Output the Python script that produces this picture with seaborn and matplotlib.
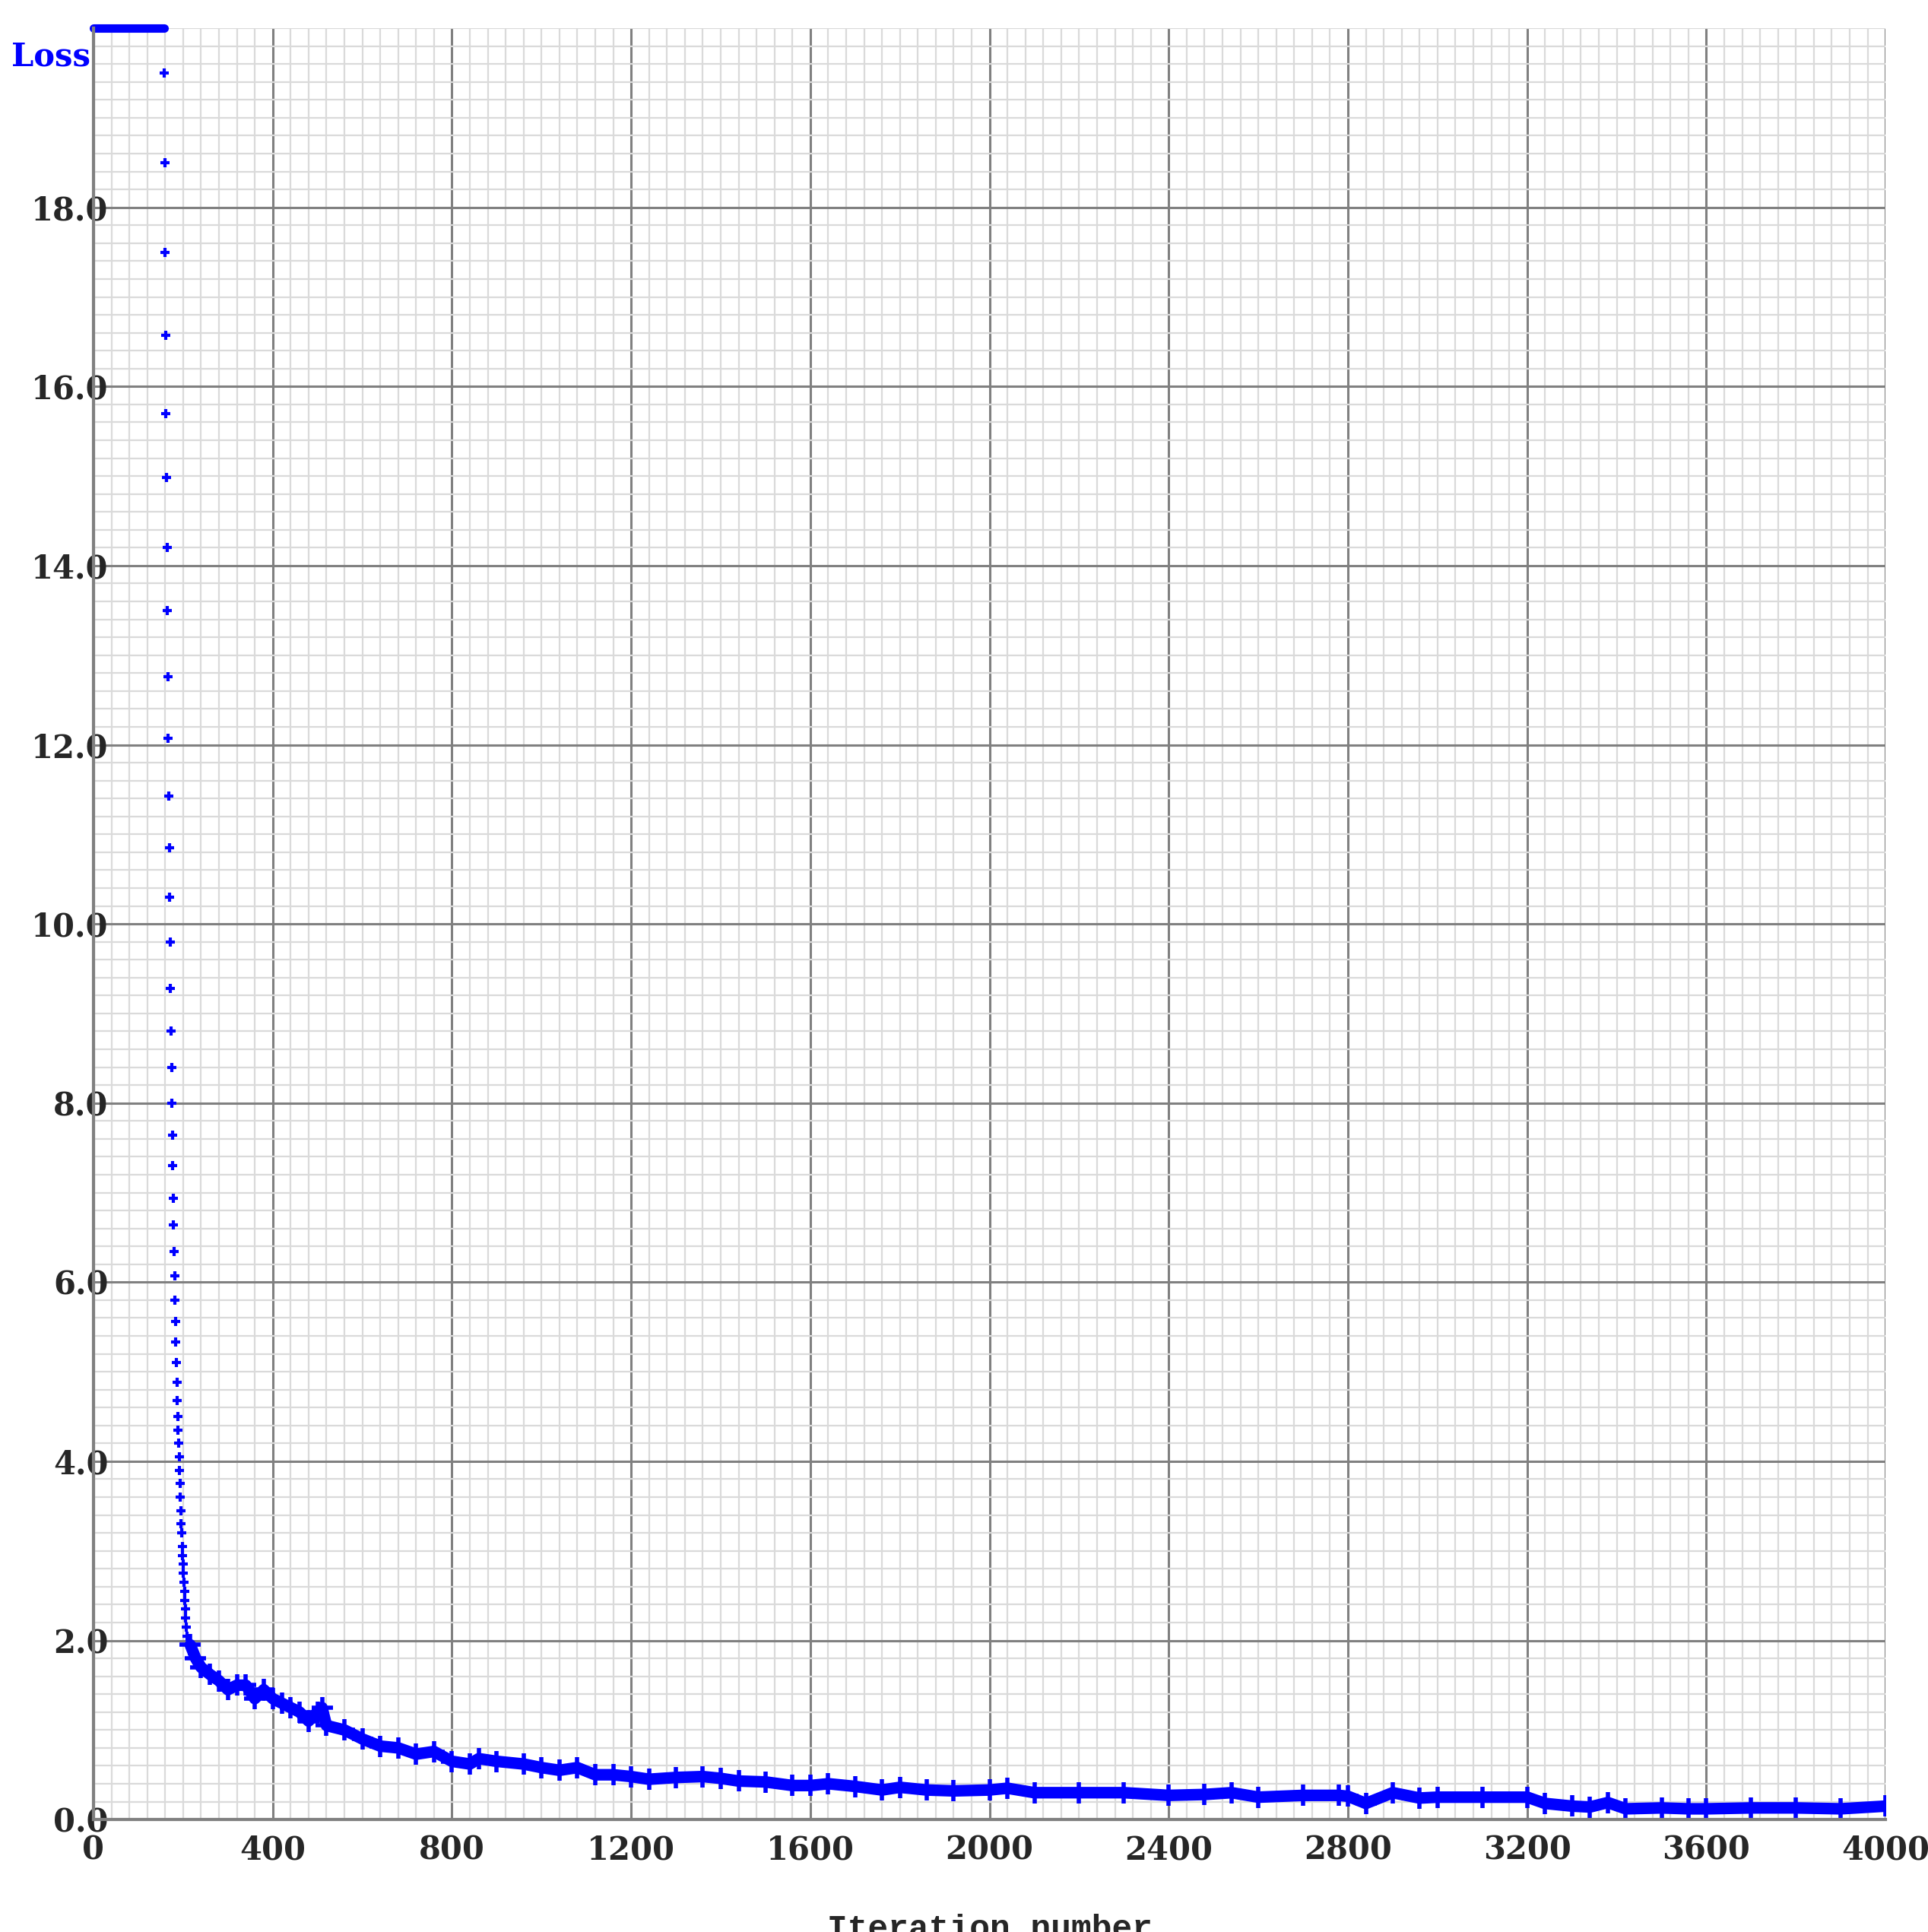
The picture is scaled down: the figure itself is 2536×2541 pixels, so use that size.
import numpy as np
import pandas as pd
import seaborn as sns
import matplotlib.pyplot as plt
from matplotlib.ticker import MultipleLocator

sns.set_theme(style="white")

# loss above the plot ceiling is drawn pinned at the top
head_iter = [0, 40, 80, 120, 157]
head_loss = [20.0, 20.0, 20.0, 20.0, 20.0]

# steep drop, about one reading per iteration
drop_loss = [19.5, 18.5, 17.5, 16.57, 15.7, 14.98, 14.2, 13.5, 12.76, 12.07,
             11.43, 10.85, 10.3, 9.8, 9.28, 8.8, 8.4, 8.0, 7.64, 7.3,
             6.94, 6.64, 6.34, 6.07, 5.8, 5.56, 5.33, 5.1, 4.88, 4.68,
             4.5, 4.35, 4.2, 4.05, 3.9, 3.75, 3.6, 3.45, 3.3, 3.2,
             3.05, 2.95, 2.85, 2.75, 2.65, 2.55, 2.45, 2.35, 2.25, 2.15, 2.05]
drop_iter = list(range(158, 158 + len(drop_loss)))

# slow tail
tail_iter = [216, 228, 240, 260, 280, 300, 320, 340, 360, 380, 400, 420, 440, 460,
             480, 500, 510, 520, 560, 600, 640, 680, 720, 760, 800, 840, 860, 900,
             960, 1000, 1040, 1080, 1120, 1160, 1200, 1240, 1300, 1360, 1400, 1440,
             1500, 1560, 1600, 1640, 1700, 1760, 1800, 1860, 1920, 2000, 2040, 2100,
             2200, 2300, 2400, 2480, 2540, 2600, 2700, 2780, 2800, 2840, 2900, 2960,
             3000, 3100, 3200, 3240, 3300, 3340, 3380, 3420, 3500, 3560, 3600, 3700,
             3800, 3900, 4000]
tail_loss = [1.95, 1.8, 1.7, 1.62, 1.55, 1.45, 1.5, 1.5, 1.35, 1.45, 1.35, 1.3, 1.25, 1.2,
             1.1, 1.2, 1.25, 1.05, 1.0, 0.9, 0.82, 0.8, 0.73, 0.76, 0.65, 0.62, 0.68, 0.65,
             0.62, 0.58, 0.55, 0.58, 0.5, 0.5, 0.48, 0.45, 0.47, 0.48, 0.46, 0.43,
             0.42, 0.38, 0.38, 0.4, 0.37, 0.33, 0.36, 0.33, 0.32, 0.33, 0.35, 0.3,
             0.3, 0.3, 0.27, 0.28, 0.3, 0.25, 0.27, 0.27, 0.26, 0.18, 0.3, 0.24,
             0.25, 0.25, 0.25, 0.18, 0.15, 0.14, 0.19, 0.12, 0.13, 0.12, 0.12, 0.13,
             0.13, 0.12, 0.15]

drop_df = pd.DataFrame({"iter": drop_iter, "loss": drop_loss})
tail_df = pd.DataFrame({"iter": tail_iter, "loss": tail_loss})

fig = plt.figure(figsize=(25.36, 25.41), dpi=100)
ax = fig.add_axes([0.0485, 0.0582, 0.9295, 0.9272])

blue = "#0000ff"
ax.plot(head_iter, head_loss, color=blue, lw=8, solid_capstyle="round", clip_on=False)
sns.scatterplot(data=drop_df, x="iter", y="loss", marker="+", s=80, linewidth=3,
                color=blue, ax=ax, legend=False)
sns.lineplot(data=tail_df, x="iter", y="loss", color=blue, lw=11, ax=ax, legend=False)
sns.scatterplot(data=tail_df, x="iter", y="loss", marker="+", s=400, linewidth=4,
                color=blue, ax=ax, legend=False)

ax.set_xlim(0, 4000)
ax.set_ylim(0, 20)
ax.xaxis.set_major_locator(MultipleLocator(400))
ax.xaxis.set_minor_locator(MultipleLocator(40))
ax.yaxis.set_major_locator(MultipleLocator(2))
ax.yaxis.set_minor_locator(MultipleLocator(0.2))
ax.grid(which="minor", color="#dadada", lw=1.6)
ax.grid(which="major", color="#808080", lw=2.2)
ax.set_axisbelow(True)
for s in ["top", "right"]:
    ax.spines[s].set_visible(False)
for s in ["left", "bottom"]:
    ax.spines[s].set_color("#808080")
    ax.spines[s].set_linewidth(3)

ax.set_yticks([0, 2, 4, 6, 8, 10, 12, 14, 16, 18])
ax.set_yticklabels([f"{v:.1f}" for v in ax.get_yticks()])
ax.tick_params(axis="both", length=0, labelsize=30)
ax.tick_params(axis="y", pad=-14)
ax.tick_params(axis="x", pad=14)
for lab in ax.get_xticklabels() + ax.get_yticklabels():
    lab.set_family("DejaVu Serif")
    lab.set_fontweight("bold")
xl = ax.get_xticklabels()
xl[0].set_horizontalalignment("right")

ax.set_xlabel("Iteration number", family="Liberation Mono", fontweight="bold",
              fontsize=32, labelpad=45)
ax.set_ylabel("")
fig.text(0.006, 0.966, "Loss", color=blue, family="DejaVu Serif",
         fontweight="bold", fontsize=30)

fig.savefig("out.png", dpi=100, facecolor="white")
